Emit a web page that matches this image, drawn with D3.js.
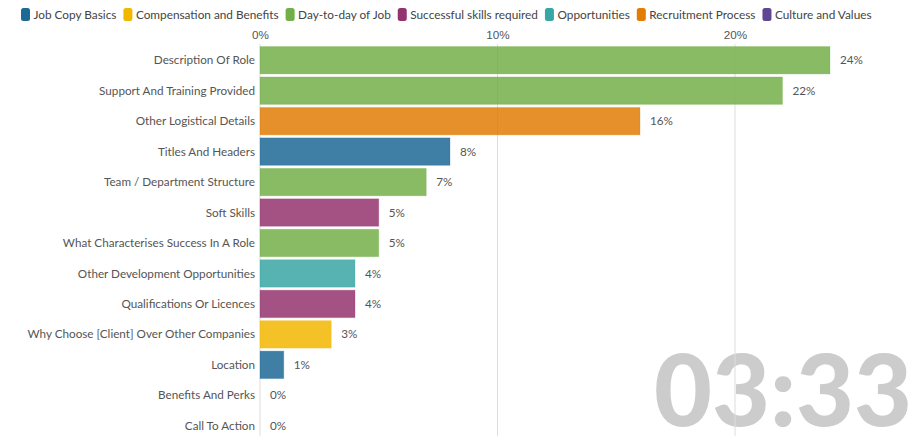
<!DOCTYPE html>
<html>
<head>
<meta charset="utf-8">
<script src="https://cdn.jsdelivr.net/npm/d3@7"></script>
<style>
  body { margin: 0; background: #fff; }
  svg { display: block; font-family: Lato, "Open Sans", sans-serif; }
</style>
</head>
<body>
<div id="container"></div>
<script>
const width = 909;
const height = 436;

// legend groups and colours
const groups = ["Job Copy Basics", "Compensation and Benefits", "Day-to-day of Job",
  "Successful skills required", "Opportunities", "Recruitment Process", "Culture and Values"];
const groupColors = ["#1d6996", "#f2b701", "#73af48", "#94346e", "#38a6a5", "#e17c05", "#5f4690"];

// bars, top to bottom
const categories = ["Description Of Role", "Support And Training Provided", "Other Logistical Details",
  "Titles And Headers", "Team / Department Structure", "Soft Skills", "What Characterises Success In A Role",
  "Other Development Opportunities", "Qualifications Or Licences", "Why Choose [Client] Over Other Companies",
  "Location", "Benefits And Perks", "Call To Action"];
const values = [24, 22, 16, 8, 7, 5, 5, 4, 4, 3, 1, 0, 0];
const categoryGroup = ["Day-to-day of Job", "Day-to-day of Job", "Recruitment Process",
  "Job Copy Basics", "Day-to-day of Job", "Successful skills required", "Day-to-day of Job",
  "Opportunities", "Successful skills required", "Compensation and Benefits",
  "Job Copy Basics", "Compensation and Benefits", "Recruitment Process"];
const xTicks = [0, 10, 20];
const timeLabel = "03:33";

const color = d3.scaleOrdinal().domain(groups).range(groupColors);

const svg = d3.select("#container").append("svg")
  .attr("width", width)
  .attr("height", height);

const x = d3.scaleLinear().domain([0, 10]).range([260, 497.5]);
const y = d3.scaleBand().domain(categories).range([45, 441]).paddingInner(0.1).paddingOuter(0.05);

// big time label behind everything
svg.append("text")
  .attr("x", 912)
  .attr("y", 426)
  .attr("text-anchor", "end")
  .attr("fill", "#cccccc")
  .attr("font-size", 100)
  .attr("font-weight", 900)
  .text(timeLabel);

// grid
svg.append("g")
  .selectAll("line")
  .data(xTicks)
  .join("line")
  .attr("x1", d => x(d)).attr("x2", d => x(d))
  .attr("y1", 44).attr("y2", height)
  .attr("stroke", "#dddddd");

// top axis labels
const xaxis = d3.axisTop(x).tickValues(xTicks).tickFormat(d => d + "%").tickSize(0);
svg.append("g")
  .attr("transform", "translate(0,42)")
  .call(xaxis)
  .call(g => g.select(".domain").remove())
  .call(g => g.selectAll("text").attr("fill", "#555").attr("font-size", 11.7).attr("font-family", "inherit"));

// bars
const rows = svg.append("g").selectAll("g")
  .data(categories)
  .join("g");

rows.append("rect")
  .attr("x", x(0))
  .attr("y", d => y(d))
  .attr("width", (d, i) => x(values[i]) - x(0))
  .attr("height", y.bandwidth())
  .attr("fill", (d, i) => color(categoryGroup[i]))
  .attr("fill-opacity", 0.85)
  .attr("stroke", (d, i) => color(categoryGroup[i]))
  .attr("stroke-opacity", 0.25);

rows.append("text")
  .attr("x", 255)
  .attr("y", d => y(d) + y.bandwidth() / 2)
  .attr("dy", "0.35em")
  .attr("text-anchor", "end")
  .attr("fill", "#555")
  .attr("font-size", 11.7)
  .text(d => d);

rows.append("text")
  .attr("x", (d, i) => x(values[i]) + 10)
  .attr("y", d => y(d) + y.bandwidth() / 2)
  .attr("dy", "0.35em")
  .attr("fill", "#555")
  .attr("font-size", 11.7)
  .text((d, i) => values[i] + "%");

// legend
const legend = svg.append("g").attr("transform", "translate(21,8)");
let lx = 0;
groups.forEach(g => {
  const item = legend.append("g").attr("transform", "translate(" + lx + ",0)");
  item.append("rect")
    .attr("width", 9).attr("height", 13).attr("rx", 2.5)
    .attr("fill", color(g));
  const t = item.append("text")
    .attr("x", 12.5).attr("y", 6.5).attr("dy", "0.35em")
    .attr("fill", "#444").attr("font-size", 11.8)
    .text(g);
  lx += 12.5 + t.node().getComputedTextLength() + 7;
});
</script>
</body>
</html>
